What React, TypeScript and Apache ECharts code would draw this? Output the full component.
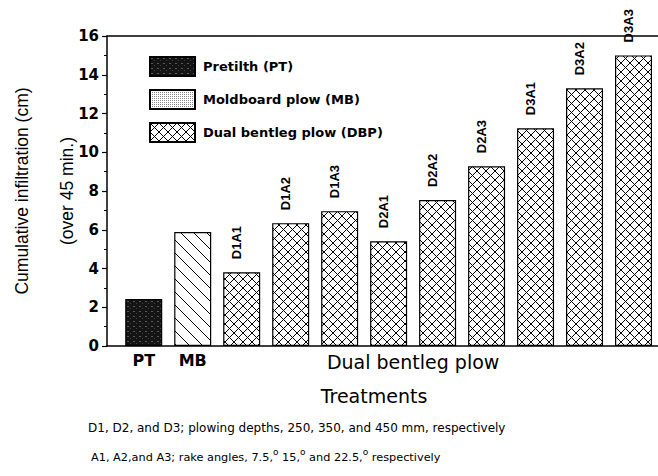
import React, { useEffect, useRef } from "react";
import * as echarts from "echarts";

const categories = ["PT", "MB", "D1A1", "D1A2", "D1A3", "D2A1", "D2A2", "D2A3", "D3A1", "D3A2", "D3A3"];
const values = [2.42, 5.88, 3.81, 6.34, 6.96, 5.41, 7.53, 9.28, 11.24, 13.3, 15.0];
const groupOf = ["PT", "MB", "DBP", "DBP", "DBP", "DBP", "DBP", "DBP", "DBP", "DBP", "DBP"];
const groupKeys = ["PT", "MB", "DBP"];
const groupNames = ["Pretilth (PT)", "Moldboard plow (MB)", "Dual bentleg plow (DBP)"];
const xTickValues = [0, 1, 5.5];
const xTickLabels = ["PT", "MB", "Dual bentleg plow"];
const yMin = 0;
const yMax = 16;
const yInterval = 2;
const yName1 = "Cumulative infiltration (cm)";
const yName2 = "(over 45 min.)";
const xName = "Treatments";
const note1 = "D1, D2, and D3; plowing depths, 250, 350, and 450 mm, respectively";
const note2Parts = ["A1, A2,and A3; rake angles, 7.5,", " 15,", " and 22.5,", " respectively"];

function svgUrl(w: number, h: number, body: string) {
  const s = `<svg xmlns='http://www.w3.org/2000/svg' width='${w}' height='${h}'>${body}</svg>`;
  return "data:image/svg+xml;charset=utf-8," + encodeURIComponent(s);
}

const crossPattern = {
  image: svgUrl(9, 9, "<rect width='9' height='9' fill='white'/><path d='M0 0L9 9M9 0L0 9' stroke='black' stroke-width='1'/>"),
  repeat: "repeat",
  imageWidth: 9,
  imageHeight: 9,
};
const diagPattern = {
  image: svgUrl(13, 13, "<rect width='13' height='13' fill='white'/><path d='M0 0L13 13M-2 11L2 15M11 -2L15 2' stroke='black' stroke-width='1'/>"),
  repeat: "repeat",
  imageWidth: 13,
  imageHeight: 13,
};
const darkPattern = {
  image: svgUrl(6, 5, "<rect width='6' height='5' fill='#141414'/><rect x='1' y='1' width='2' height='1' fill='#5a5a5a'/><rect x='4' y='3' width='1' height='1' fill='#444'/>"),
  repeat: "repeat",
  imageWidth: 6,
  imageHeight: 5,
};
const dotPattern = {
  image: svgUrl(2, 2, "<rect width='2' height='2' fill='white'/><rect width='1' height='1' fill='#8a8a8a'/>"),
  repeat: "repeat",
  imageWidth: 2,
  imageHeight: 2,
};
const fills: Record<string, any> = { PT: darkPattern, MB: diagPattern, DBP: crossPattern };

const FONT_WIDE = "'DejaVu Sans', Verdana, sans-serif";
const FONT_ARIAL = "'Liberation Sans', Arial, sans-serif";

export default function App() {
  const ref = useRef<HTMLDivElement>(null);
  useEffect(() => {
    if (!ref.current) return;
    const chart = echarts.init(ref.current, null, { renderer: "svg" });

    const series = groupKeys.map((g, gi) => ({
      type: "bar",
      name: groupNames[gi],
      stack: "all",
      barWidth: 37,
      itemStyle: { color: fills[g], borderColor: "#000", borderWidth: 1.2 },
      data: categories
        .map((c, i) => (groupOf[i] === g ? { name: c, value: [i, values[i]] } : null))
        .filter((d) => d !== null),
      label: {
        show: g === "DBP",
        position: "top",
        rotate: 90,
        align: "left",
        verticalAlign: "middle",
        distance: 13,
        offset: [0, -5],
        formatter: (p: any) => p.name,
        fontFamily: FONT_ARIAL,
        fontWeight: "bold",
        fontSize: 13,
        color: "#000",
      },
    }));

    const option: any = {
      animation: false,
      backgroundColor: "#fff",
      grid: { left: 107, right: 0, top: 36, bottom: 130, containLabel: false, outerBoundsMode: "none" },
      legend: {
        orient: "vertical",
        left: 149,
        top: 56,
        padding: 0,
        itemWidth: 45,
        itemHeight: 19,
        itemGap: 12,
        icon: "rect",
        textStyle: { fontFamily: FONT_WIDE, fontWeight: "bold", fontSize: 13, color: "#000", padding: [0, 0, 0, 3] },
        data: groupNames.map((n, i) =>
          groupKeys[i] === "MB" ? { name: n, itemStyle: { color: dotPattern } } : { name: n }
        ),
      },
      xAxis: [
        {
          type: "value",
          min: -0.75,
          max: 10.5,
          interval: 0.25,
          splitLine: { show: false },
          axisTick: { show: false },
          axisLine: { show: true, onZero: false, lineStyle: { color: "#000", width: 1.5 } },
          axisLabel: {
            margin: 6,
            formatter: (v: number) => {
              const k = xTickValues.findIndex((t) => Math.abs(t - v) < 1e-6);
              if (k < 0) return "";
              return k < 2 ? `{b|${xTickLabels[k]}}` : `{n|${xTickLabels[k]}}`;
            },
            rich: {
              b: { fontFamily: FONT_WIDE, fontWeight: "bold", fontSize: 16, color: "#000" },
              n: { fontFamily: FONT_WIDE, fontSize: 19, color: "#000" },
            },
          },
          name: xName,
          nameLocation: "middle",
          nameGap: 40,
          nameMoveOverlap: false,
          nameTextStyle: { fontFamily: FONT_WIDE, fontSize: 19, color: "#000", padding: [0, 17, 0, 0] },
        },
        {
          type: "value",
          position: "top",
          min: -0.75,
          max: 10.5,
          interval: 0.25,
          splitLine: { show: false },
          axisTick: { show: false },
          axisLabel: { show: false },
          axisLine: { show: true, onZero: false, lineStyle: { color: "#000", width: 1.5 } },
        },
      ],
      yAxis: {
        type: "value",
        position: "left",
        min: yMin,
        max: yMax,
        interval: yInterval,
        splitLine: { show: false },
        axisLine: { show: true, onZero: false, lineStyle: { color: "#000", width: 1.5 } },
        axisTick: { show: true, inside: false, length: 5, lineStyle: { color: "#000", width: 1.2 } },
        minorTick: { show: true, splitNumber: 2, length: 3, lineStyle: { color: "#000" } },
        axisLabel: { margin: 8, fontFamily: FONT_WIDE, fontWeight: "bold", fontSize: 15, color: "#000" },
        name: yName1 + "\n" + yName2,
        nameLocation: "middle",
        nameRotate: 90,
        nameGap: 18,
        nameMoveOverlap: false,
        nameTextStyle: { fontFamily: FONT_ARIAL, fontSize: 17.5, lineHeight: 45, color: "#000" },
      },
      series,
      graphic: [
        {
          type: "text",
          left: 88,
          top: 422,
          style: { text: note1, font: `12px ${FONT_WIDE}`, fill: "#000" },
        },
        {
          type: "text",
          left: 91,
          top: 447,
          style: {
            text:
              note2Parts[0] + "{d|o}" + note2Parts[1] + "{d|o}" + note2Parts[2] + "{d|o}" + note2Parts[3],
            font: `11.3px ${FONT_WIDE}`,
            fill: "#000",
            rich: {
              d: { fontSize: 9, fontFamily: FONT_WIDE, verticalAlign: "top", padding: [0, 0, 11, 0], fill: "#000" },
            },
          },
        },
      ],
    };
    chart.setOption(option);
    return () => chart.dispose();
  }, []);
  return (
    <div
      ref={ref}
      style={{ position: "fixed", left: 0, top: 0, width: 658, height: 476, background: "#fff" }}
    />
  );
}
